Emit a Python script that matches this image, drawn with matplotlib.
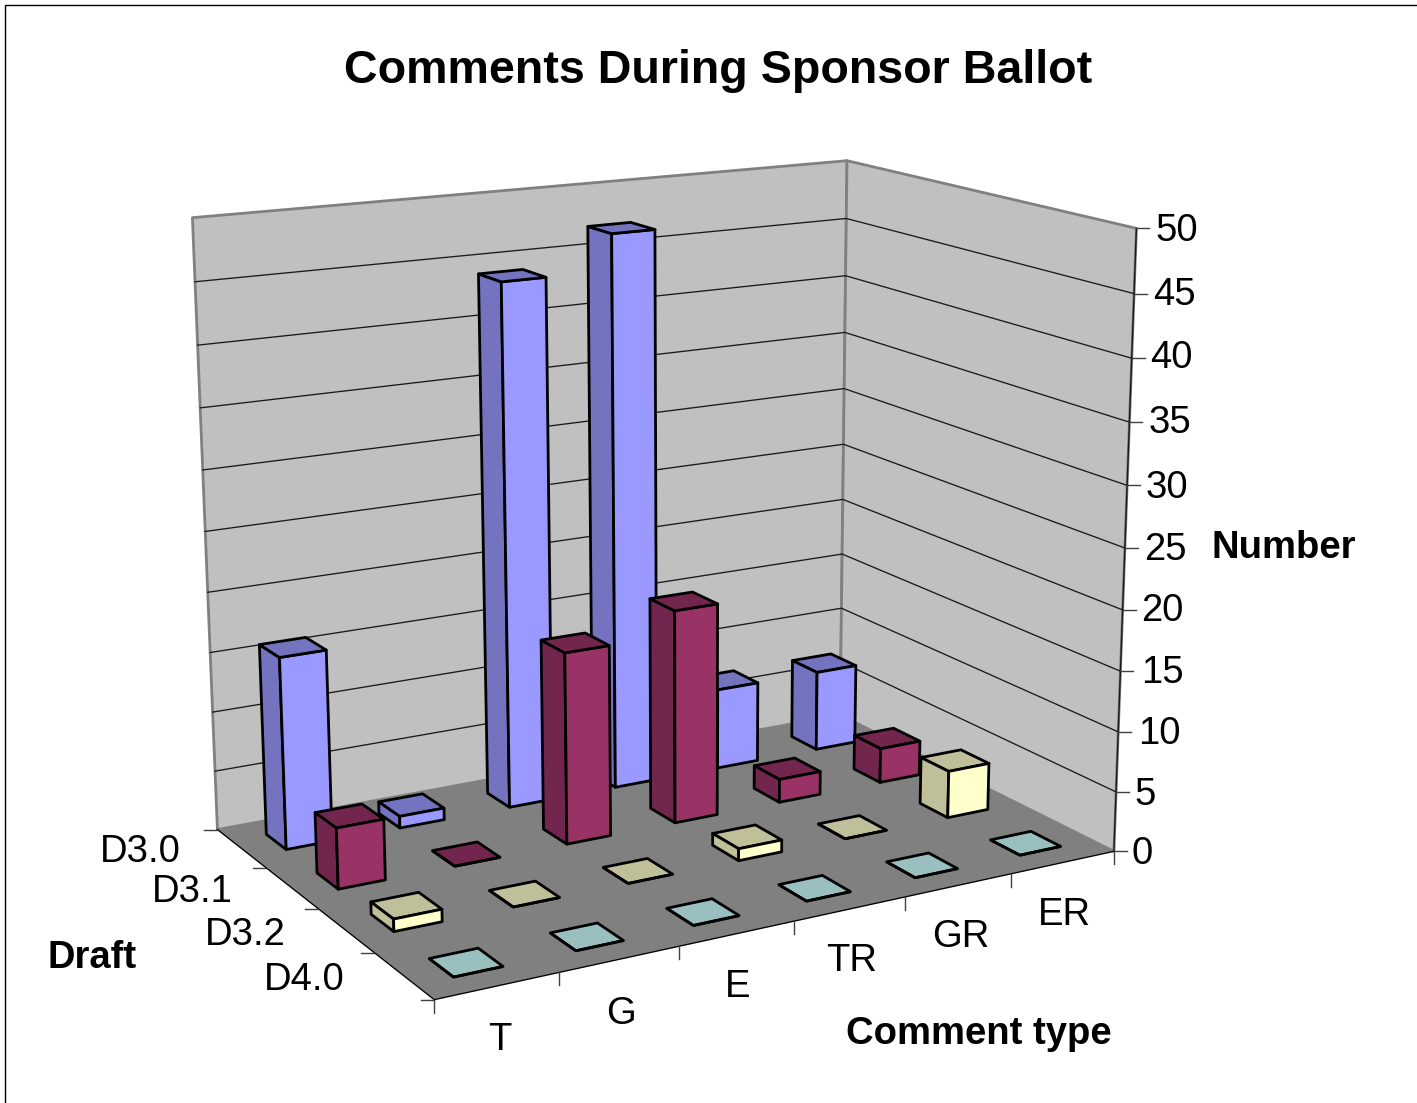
import matplotlib
matplotlib.use("Agg")
import matplotlib.pyplot as plt
import numpy as np
from matplotlib.lines import Line2D
from matplotlib.transforms import Affine2D
from mpl_toolkits.mplot3d.art3d import Poly3DCollection

plt.rcParams['font.family'] = ['Liberation Sans', 'DejaVu Sans']

comment_types = ['T', 'G', 'E', 'TR', 'GR', 'ER']
drafts = ['D3.0', 'D3.1', 'D3.2', 'D4.0']
d30 = [16, 1, 44, 47, 7, 7]
d31 = [5, 0, 16, 18, 2, 3]
d32 = [1, 0, 0, 1, 0, 4]
d40 = [0, 0, 0, 0, 0, 0]
z_ticks = [0, 5, 10, 15, 20, 25, 30, 35, 40, 45, 50]

# front, side/top colour per draft
front_colors = ['#9999FF', '#993366', '#FFFFCC', '#CCFFFF']
side_colors = ['#7373BF', '#73264D', '#BFBF99', '#99BFBF']

W, H = 1417, 1103
BAR = 0.4

# where the corners of the chart box land in the picture, used to fit the camera
box_world = [(0, 0, 0), (0, 4, 0), (6, 4, 0), (6, 0, 0), (0, 0, 50), (6, 0, 50), (6, 4, 50)]
box_pixel = [(216.7, 829), (435, 1000), (1113, 851.7), (841, 715), (192.5, 218), (846.7, 161), (1136.7, 227.7)]


def fit_camera(world, pixel):
    rows = []
    for (x, y, z), (u, v) in zip(world, pixel):
        rows.append([x, y, z, 1, 0, 0, 0, 0, -u*x, -u*y, -u*z, -u])
        rows.append([0, 0, 0, 0, x, y, z, 1, -v*x, -v*y, -v*z, -v])
    p = np.linalg.svd(np.array(rows, dtype=float))[2][-1].reshape(3, 4)
    # keep w positive and close to 1 over the box
    w0 = p[2] @ np.array([3, 2, 25, 1])
    return p / w0


fig = plt.figure(figsize=(W/100, H/100), dpi=100, facecolor='white')
px = Affine2D().scale(1/W, -1/H).translate(0, 1) + fig.transFigure

# square axes wider than the figure is tall, so nothing gets clipped
ax = fig.add_axes([0, 0.5 - W/H/2, 1, W/H], projection='3d', computed_zorder=False)
ax.set_axis_off()
ax.set_facecolor('none')
ax.apply_aspect()

P = fit_camera(box_world, box_pixel)
flip = np.array([[1, 0, 0], [0, -1, H], [0, 0, 1.0]])
A = ax.transData.inverted().get_matrix() @ flip
P2 = A @ P
# depth row has to stay <= 0 or Line3D masks the points
M = np.vstack([P2[0], P2[1], [0, 0, 0, -0.5], P2[2]])
ax.get_proj = lambda: M


def to_px(x, y, z):
    q = P @ np.array([x, y, z, 1.0])
    return q[0]/q[2], q[1]/q[2]


def add_faces(faces, colors, lw, edge, order):
    ax.add_collection3d(Poly3DCollection(faces, facecolors=colors, edgecolors=edge,
                                         linewidths=lw, zorder=order))


def add_bar(i, j, value, front, side, order):
    x0, x1 = i + 0.3, i + 0.3 + BAR
    y0, y1 = j + 0.3, j + 0.3 + BAR
    faces = [
        [(x0, y0, 0), (x0, y1, 0), (x0, y1, value), (x0, y0, value)],
        [(x0, y1, 0), (x1, y1, 0), (x1, y1, value), (x0, y1, value)],
        [(x0, y0, value), (x1, y0, value), (x1, y1, value), (x0, y1, value)],
    ]
    add_faces(faces, [side, front, side], 2.0, 'black', order)


# walls and floor
add_faces([[(0, 0, 0), (6, 0, 0), (6, 0, 50), (0, 0, 50)],
           [(6, 0, 0), (6, 4, 0), (6, 4, 50), (6, 0, 50)]],
          ['#C0C0C0', '#C0C0C0'], 2.0, '#808080', 1)
add_faces([[(0, 0, 0), (6, 0, 0), (6, 4, 0), (0, 4, 0)]], ['#808080'], 0, 'none', 2)

for z in z_ticks[1:-1]:
    ax.plot([0, 6, 6], [0, 0, 4], [z, z, z], color='#1a1a1a', lw=0.95, zorder=3)

ax.plot([0, 0, 6], [0, 4, 4], [0, 0, 0], color='black', lw=0.95, zorder=3)
ax.plot([6, 6], [4, 4], [0, 50], color='#1a1a1a', lw=1.0, zorder=3)

# bars, back row first
order = 4
for j, values in enumerate([d30, d31, d32, d40]):
    for i, value in enumerate(values):
        add_bar(i, j, value, front_colors[j], side_colors[j], order)
        order += 1

# ticks stay screen aligned in the original
TICK = 13
tick_style = dict(color='#404040', lw=1.0, transform=px)
for z in z_ticks:
    u, v = to_px(6, 4, z)
    fig.add_artist(Line2D([u, u + TICK], [v, v], **tick_style))
for j in range(len(drafts) + 1):
    u, v = to_px(0, j, 0)
    fig.add_artist(Line2D([u - TICK, u], [v, v], **tick_style))
for i in range(len(comment_types) + 1):
    u, v = to_px(i, 4, 0)
    fig.add_artist(Line2D([u, u], [v, v + TICK], **tick_style))

# chart border, only left and top show
fig.add_artist(Line2D([4.5, 4.5, W], [H, 4.5, 4.5], color='black', lw=1.0, transform=px))

z_label_pos = [(1142, 854), (1145, 795), (1159, 734), (1162, 673), (1162, 611), (1165, 550),
               (1167, 488), (1170, 423), (1171, 358), (1174, 295), (1177, 231)]
draft_label_pos = [(140, 852), (192, 892), (245, 935), (304, 980)]
type_label_pos = [(500, 1040), (621, 1014), (738, 987), (852, 961), (961, 937), (1064, 915)]

label_style = dict(fontsize=27.5, ha='center', va='center', transform=px)
for z, (u, v) in zip(z_ticks, z_label_pos):
    fig.text(u, v, str(z), **label_style)
for name, (u, v) in zip(drafts, draft_label_pos):
    fig.text(u, v, name, **label_style)
for name, (u, v) in zip(comment_types, type_label_pos):
    fig.text(u, v, name, **label_style)

fig.text(92, 958, 'Draft', fontweight='bold', **label_style)
fig.text(1284, 548, 'Number', fontweight='bold', **label_style)
fig.text(979, 1034, 'Comment type', fontweight='bold', **label_style)
fig.text(718, 71, 'Comments During Sponsor Ballot', fontsize=33.6, fontweight='bold',
         ha='center', va='center', transform=px)

fig.savefig('out.png', dpi=100)
